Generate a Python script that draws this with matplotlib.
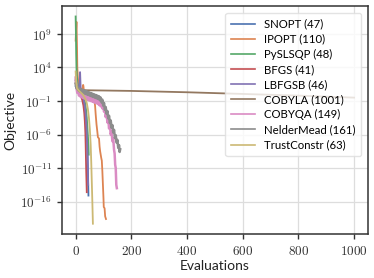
import numpy as np
import matplotlib
matplotlib.use('Agg')
import matplotlib.pyplot as plt
from matplotlib.ticker import FuncFormatter

plt.rcParams['mathtext.fontset'] = 'cm'
plt.rcParams['font.family'] = ['Lato', 'DejaVu Sans']

palette = ['#4c72b0', '#dd8452', '#55a868', '#c44e52', '#8172b3',
           '#937860', '#da8bc3', '#8c8c8c', '#ccb974']

labels = ['SNOPT (47)', 'IPOPT (110)', 'PySLSQP (48)', 'BFGS (41)', 'LBFGSB (46)',
          'COBYLA (1001)', 'COBYQA (149)', 'NelderMead (161)', 'TrustConstr (63)']

# evaluation index / log10(objective)
snopt_x = [0, 5, 10, 15, 20, 25, 30, 34, 37, 40, 42, 43, 44, 45, 46]
snopt_y = [1.2, 0.8, 0.5, 0.3, 0.0, -0.5, -1.2, -2.2, -3.4, -5.2, -7.0, -9.0, -11.0, -13.0, -15.1]

ipopt_x = [0, 3, 5, 6, 8, 10, 13, 16, 20, 24, 27, 28, 30, 35, 40, 45, 50, 55, 60, 65,
           68, 70, 72, 75, 78, 80, 84, 86, 88, 92, 94, 96, 98, 100, 101, 104, 106, 109]
ipopt_y = [8.0, 10.8, 7.0, 4.0, 2.5, 1.6, 1.0, 0.8, 0.6, 0.7, 1.4, 1.2, 0.3, 0.1, 0.0,
           -0.1, -0.2, -0.3, -0.5, -0.7, -1.0, -1.8, -3.0, -4.5, -5.6, -6.4, -6.6, -7.8,
           -8.5, -9.5, -9.9, -11.5, -13.5, -15.5, -16.8, -17.0, -18.2, -18.6]

slsqp_x = [0, 1, 2, 3, 4, 6, 10, 15, 20, 25, 30, 34, 37, 40, 42, 44, 46, 47]
slsqp_y = [11.6, 9.0, 6.0, 4.0, 3.0, 1.8, 1.0, 0.6, 0.3, 0.0, -0.5, -1.3, -2.2, -3.5,
           -4.8, -6.2, -7.6, -9.0]

bfgs_x = [0, 4, 8, 12, 16, 20, 24, 28, 31, 33, 35, 36, 37, 38, 39, 40]
bfgs_y = [1.6, 0.9, 0.6, 0.3, 0.0, -0.4, -0.9, -1.7, -2.8, -4.0, -5.8, -7.5, -9.5,
          -11.5, -13.0, -14.6]

lbfgsb_x = [0, 3, 6, 10, 14, 16, 18, 20, 24, 28, 32, 35, 38, 40, 42, 43, 44, 45]
lbfgsb_y = [2.2, 1.0, 0.7, 0.6, 1.5, 3.3, 1.0, 0.4, 0.0, -0.6, -1.5, -2.6, -4.2, -6.0,
            -8.0, -10.0, -12.0, -13.5]

cobyla_x = [0, 3, 6, 10, 20, 40, 200, 400, 600, 800, 1000]
cobyla_y = [2.0, 1.2, 1.0, 0.8, 0.65, 0.6, 0.5, 0.3, 0.05, -0.2, -0.5]

cobyqa_x = [0, 3, 6, 9, 12, 15, 18, 21, 24, 27, 30, 33, 36, 39, 42, 45, 48, 51, 54, 57,
            60, 63, 66, 69, 72, 75, 78, 81, 84, 87, 90, 93, 96, 99, 102, 105, 108, 111,
            114, 117, 120, 123, 126, 129, 132, 135, 138, 140, 142, 144, 146, 148]
cobyqa_y = [2.5, 1.0, 0.2, 0.8, -0.2, 0.5, -0.4, 0.4, -0.5, 0.3, -0.6, 0.2, -0.7, 0.1,
            -0.8, 0.0, -0.9, -0.1, -1.0, -0.3, -1.1, -0.4, -1.2, -0.5, -1.3, -0.6, -1.4,
            -0.8, -1.6, -0.9, -1.8, -1.1, -2.1, -1.4, -2.6, -2.0, -3.4, -2.7, -4.2, -3.6,
            -5.1, -4.5, -6.0, -5.5, -7.0, -6.6, -8.3, -8.8, -10.5, -11.0, -13.5, -14.0]

nm_x = [0, 3, 6, 9, 12, 15, 18, 21, 24, 27, 30, 33, 36, 39, 42, 45, 48, 51, 54, 57, 60,
        63, 66, 69, 72, 75, 78, 81, 84, 87, 90, 93, 96, 99, 102, 105, 108, 111, 114, 117,
        120, 123, 126, 129, 132, 135, 138, 141, 144, 147, 150, 153, 156, 158, 160]
nm_y = [1.6, 0.9, 1.2, 0.6, 0.9, 0.4, 0.8, 0.3, 0.7, 0.2, 0.6, 0.1, 0.5, 0.0, 0.4, -0.1,
        0.3, -0.2, 0.2, -0.3, 0.1, -0.4, 0.0, -0.5, -0.1, -0.6, -0.2, -0.7, -0.3, -0.9,
        -0.5, -1.2, -0.8, -1.7, -1.3, -2.3, -1.9, -2.9, -2.5, -3.6, -3.2, -4.3, -3.9,
        -5.0, -4.6, -5.7, -5.3, -6.5, -6.1, -7.2, -6.8, -8.0, -7.6, -8.6, -8.2]

trust_x = [0, 2, 5, 10, 15, 20, 25, 30, 35, 40, 44, 48, 51, 54, 56, 58, 60, 62]
trust_y = [3.4, 1.8, 0.9, 0.6, 0.4, 0.2, 0.0, -0.3, -0.7, -1.3, -2.2, -3.6, -5.2, -7.5,
           -10.0, -13.0, -16.0, -19.3]

series = [(snopt_x, snopt_y), (ipopt_x, ipopt_y), (slsqp_x, slsqp_y), (bfgs_x, bfgs_y),
          (lbfgsb_x, lbfgsb_y), (cobyla_x, cobyla_y), (cobyqa_x, cobyqa_y),
          (nm_x, nm_y), (trust_x, trust_y)]

fig, ax = plt.subplots(figsize=(3.74, 2.78), dpi=100)
fig.subplots_adjust(left=0.165, right=0.984, top=0.978, bottom=0.158)

ax.grid(True, color='#dddddd', linewidth=0.9, zorder=0)
ax.set_axisbelow(True)

for (xs, ys), lab, col in zip(series, labels, palette):
    lw = 1.8 if lab.startswith(('COBYQA', 'NelderMead')) else 1.3
    ax.plot(xs, 10.0 ** np.array(ys), color=col, lw=lw, label=lab)

ax.set_yscale('log')
ax.set_yticks([1e-16, 1e-11, 1e-6, 1e-1, 1e4, 1e9])
ax.yaxis.set_minor_locator(plt.NullLocator())
ax.yaxis.set_major_formatter(FuncFormatter(lambda v, p: r'$10^{%d}$' % round(np.log10(v))))
ax.set_xticks([0, 200, 400, 600, 800, 1000])
ax.xaxis.set_major_formatter(FuncFormatter(lambda v, p: r'$%d$' % v))

for s in ax.spines.values():
    s.set_color('#333333')
    s.set_linewidth(1.1)
ax.tick_params(colors='#333333', labelsize=9.5, length=3.5, width=1.0)

ax.set_xlabel('Evaluations', fontsize=10, color='#222222', labelpad=2)
ax.set_ylabel('Objective', fontsize=10, color='#222222', labelpad=3)

leg = ax.legend(loc='upper right', fontsize=8.2, framealpha=0.8, edgecolor='#dddddd',
                fancybox=True, borderpad=0.5, labelspacing=0.36, handlelength=2.1,
                borderaxespad=0.6)
for line in leg.get_lines():
    line.set_linewidth(1.2)

fig.savefig('out.png')
